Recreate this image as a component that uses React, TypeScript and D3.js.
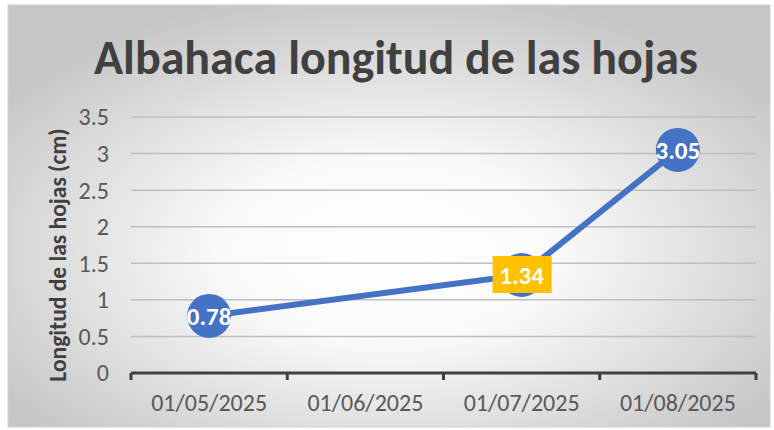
import React from "react";
import * as d3 from "d3";

const categories = ["01/05/2025", "01/06/2025", "01/07/2025", "01/08/2025"];
const dates = ["01/05/2025", "01/07/2025", "01/08/2025"];
const values = [0.78, 1.34, 3.05];
const yTicks = [0, 0.5, 1, 1.5, 2, 2.5, 3, 3.5];
const highlighted = ["01/07/2025"];

const W = 774, H = 430;
const M = { left: 131, right: 756, top: 117, bottom: 373 };
const FONT = "Carlito, Calibri, Lato, 'Open Sans', sans-serif";

export default function App() {
  const x = d3.scaleBand().domain(categories).range([M.left, M.right]).padding(0);
  const y = d3.scaleLinear().domain([0, 3.5]).range([M.bottom, M.top]);
  const cx = (c: string) => (x(c) as number) + x.bandwidth() / 2;
  const pts = dates.map((d, i) => [cx(d), y(values[i])] as [number, number]);
  const line = d3.line()(pts) as string;
  const tickXs = d3.range(categories.length + 1).map((i) => M.left + i * x.bandwidth());

  return (
    <svg width={W} height={H} style={{ position: "absolute", left: 0, top: 0 }}>
      <defs>
        <radialGradient id="bg" cx="50%" cy="58%" r="62%">
          <stop offset="0%" stopColor="#ffffff" />
          <stop offset="35%" stopColor="#fafafa" />
          <stop offset="100%" stopColor="#c6c6c6" />
        </radialGradient>
      </defs>
      <rect x={8} y={5} width={762} height={422} fill="url(#bg)" stroke="#d0d0d0" strokeWidth={1} />
      <text x={396} y={74} textAnchor="middle" fontFamily={FONT} fontWeight={700} fontSize={48} fill="#404040">
        Albahaca longitud de las hojas
      </text>
      {yTicks.map((t) => (
        <g key={t}>
          {t > 0 && <line x1={M.left} x2={M.right} y1={y(t)} y2={y(t)} stroke="#bfbfbf" strokeWidth={1.5} />}
          <text x={109} y={y(t)} dy="0.35em" textAnchor="end" fontFamily={FONT} fontSize={24} fill="#595959">
            {t}
          </text>
        </g>
      ))}
      <text
        transform={`translate(58,255) rotate(-90)`}
        textAnchor="middle"
        dy="0.35em"
        fontFamily={FONT}
        fontWeight={700}
        fontSize={23.5}
        fill="#404040"
      >
        Longitud de las hojas (cm)
      </text>
      <line x1={M.left} x2={M.right} y1={M.bottom} y2={M.bottom} stroke="#404040" strokeWidth={3} />
      {tickXs.map((tx, i) => (
        <line key={i} x1={tx} x2={tx} y1={M.bottom} y2={M.bottom + 7} stroke="#404040" strokeWidth={3} />
      ))}
      {categories.map((c) => (
        <text key={c} x={cx(c)} y={403} dy="0.35em" textAnchor="middle" fontFamily={FONT} fontSize={24} fill="#595959">
          {c}
        </text>
      ))}
      <path d={line} fill="none" stroke="#4472C4" strokeWidth={6} strokeLinejoin="round" />
      {pts.map(([px, py], i) => (
        <circle key={i} cx={px} cy={py} r={22} fill="#4472C4" />
      ))}
      {pts.map(([px, py], i) => {
        const hl = highlighted.includes(dates[i]);
        return (
          <g key={"l" + i}>
            {hl && <rect x={px - 29} y={py - 19} width={59} height={37} fill="#FFC000" />}
            <text x={px} y={py} dy="0.35em" textAnchor="middle" fontFamily={FONT} fontWeight={700} fontSize={25} fill="#ffffff">
              {values[i]}
            </text>
          </g>
        );
      })}
    </svg>
  );
}
